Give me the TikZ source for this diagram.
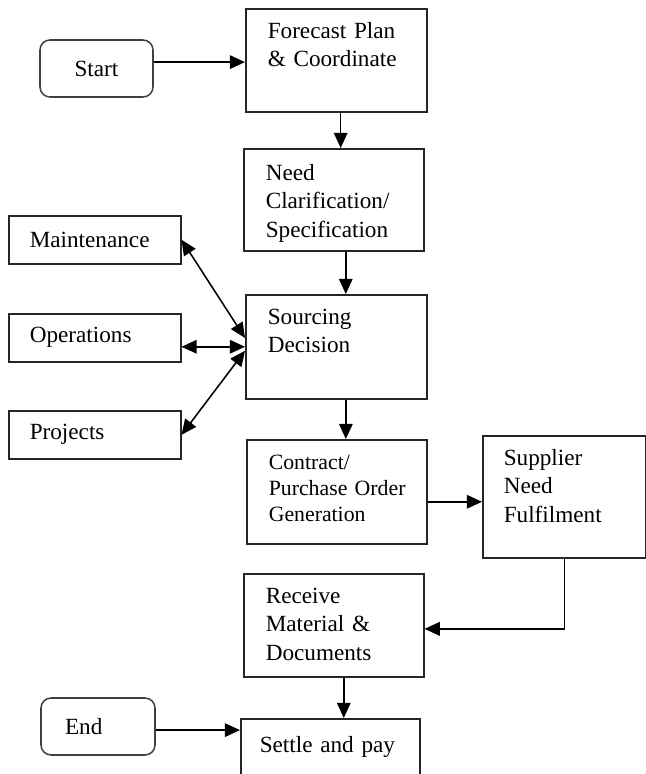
\documentclass[tikz,border=0pt]{standalone}
\usepackage{fontspec}
\setmainfont{Liberation Serif}
\usetikzlibrary{arrows.meta}

\begin{document}
\begin{tikzpicture}[
  box/.style={draw=black!85, line width=1.1pt, anchor=north west, align=left,
    inner xsep=0.55cm, inner ysep=0pt, text height=0.75cm,
    font=\fontsize{16.5}{20}\selectfont},
  term/.style={draw=black!75, line width=1.1pt, rounded corners=0.25cm,
    minimum width=2.825cm, minimum height=1.425cm,
    font=\fontsize{16.5}{20}\selectfont},
  side/.style={draw=black!85, line width=1.1pt, anchor=north west, align=left,
    inner xsep=0.525cm, text width=3.25cm, minimum height=1.2cm,
    font=\fontsize{16.5}{20}\selectfont},
  arr/.style={-{Triangle[length=0.38cm,width=0.34cm]}, line width=1.1pt},
  both/.style={{Triangle[length=0.38cm,width=0.34cm]}-{Triangle[length=0.38cm,width=0.34cm]}, line width=1.1pt}
]
\useasboundingbox (0,0) rectangle (16.15,-19.35);
\clip (0,0) rectangle (16.15,-19.35);

% main column
\node[box, text width=3.425cm, text depth=1.825cm] (forecast) at (6.125,-0.2) {\mbox{Forecast Plan}\\ \& Coordinate};
\node[box, text width=3.4cm, text height=0.8cm, text depth=1.75cm] (need) at (6.075,-3.7) {Need\\ Clarification/\\ Specification};
\node[box, text width=3.425cm, text depth=1.85cm] (sourcing) at (6.125,-7.35) {Sourcing\\ Decision};
\node[box, text width=3.4cm, text depth=1.85cm, font=\fontsize{15.5}{18.5}\selectfont] (contract) at (6.15,-10.975) {Contract/\\ \mbox{Purchase Order}\\ Generation};
\node[box, inner xsep=0.525cm, text width=3.025cm, text depth=2.3cm] (supplier) at (12.05,-10.875) {Supplier\\ Need\\ Fulfilment};
\node[box, text width=3.4cm, text depth=1.825cm] (receive) at (6.075,-14.325) {Receive\\ \mbox{Material \&}\\ Documents};
\node[box, inner xsep=0.475cm, text width=3.525cm, text height=0.85cm, text depth=0.95cm] (settle) at (6.0,-17.95) {\mbox{Settle and pay}};

% start / end
\node[term] (start) at (2.4125,-1.7125) {Start};
\node[term, align=left, inner xsep=0.6cm, text width=1.65cm] (end) at (2.45,-18.1625) {End};

% users
\node[side] (maint) at (0.2,-5.375) {Maintenance};
\node[side] (ops) at (0.2,-7.825) {Operations};
\node[side] (proj) at (0.2,-10.25) {Projects};

% flow
\draw[arr] ([yshift=0.16cm]start.east) -- ([yshift=0.16cm]start.east -| forecast.west);
\draw[arr] ([xshift=0.11cm]forecast.south) -- ([xshift=0.11cm]forecast.south |- need.north);
\draw[arr] ([xshift=0.3cm]need.south) -- ([xshift=0.3cm]need.south |- sourcing.north);
\draw[arr] ([xshift=0.24cm]sourcing.south) -- ([xshift=0.24cm]sourcing.south |- contract.north);
\draw[arr] ([yshift=-0.25cm]contract.east) -- ([yshift=-0.25cm]contract.east -| supplier.west);
\draw[arr] (supplier.south) |- ([yshift=-0.09cm]receive.east);
\draw[arr] ([xshift=0.25cm]receive.south) -- ([xshift=0.25cm]receive.south |- settle.north);
\draw[arr] ([yshift=-0.09cm]end.east) -- ([yshift=-0.09cm]end.east -| settle.west);

\draw[both] (maint.east) -- ([yshift=0.22cm]sourcing.west);
\draw[both] (sourcing.west -| ops.east) -- (sourcing.west);
\draw[both] (proj.east) -- ([yshift=-0.1cm]sourcing.west);
\end{tikzpicture}
\end{document}
